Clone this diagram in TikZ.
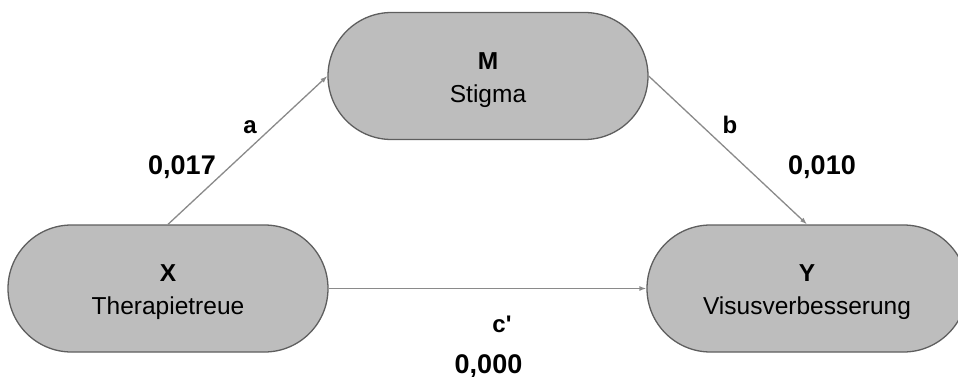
\documentclass[tikz,border=0pt]{standalone}
\usepackage{fontspec}
\setmainfont{Liberation Sans}
\usetikzlibrary{shapes.misc,arrows.meta}
\definecolor{boxfill}{HTML}{BDBDBD}
\definecolor{boxline}{HTML}{5E5E5E}
\definecolor{arrowgray}{HTML}{8A8A8A}
\newcommand{\topstrut}{\rule{0pt}{25pt}}
\tikzset{
  varbox/.style={rounded rectangle, draw=boxline, line width=1.3pt, fill=boxfill,
    minimum width=320pt, minimum height=127pt, inner sep=0pt, align=center,
    font=\fontsize{24.5}{33}\selectfont},
  path/.style={draw=arrowgray, line width=1.3pt, -{Latex[length=7pt,width=5pt]}},
  coef/.style={font=\bfseries\fontsize{27}{32}\selectfont, anchor=base},
  pname/.style={font=\bfseries\fontsize{24}{30}\selectfont, anchor=base}
}
\begin{document}
\begin{tikzpicture}[x=1pt,y=-1pt]
  \useasboundingbox (0,0) rectangle (958,377);
  % variables
  \node[varbox] (M) at (488,76) {\topstrut\textbf{M}\\Stigma};
  \node[varbox] (X) at (168,288.5) {\topstrut\textbf{X}\\Therapietreue};
  \node[varbox] (Y) at (807,288.5) {\topstrut\textbf{Y}\\Visusverbesserung};
  % paths
  \draw[path] (X.north) -- (M.west);
  \draw[path] (M.east) -- (Y.north);
  \draw[path] (X.east) -- (Y.west);
  % path labels and coefficients
  \node[pname] (la) at (250,133) {a};
  \node[coef] (ca) at (182,175) {0,017};
  \node[pname] (lb) at (730,133) {b};
  \node[coef] (cb) at (822,175) {0,010};
  \node[pname] (lc) at (502,332) {c\textquotesingle};
  \node[coef] (cc) at (488.5,373) {0,000};
\end{tikzpicture}
\end{document}
